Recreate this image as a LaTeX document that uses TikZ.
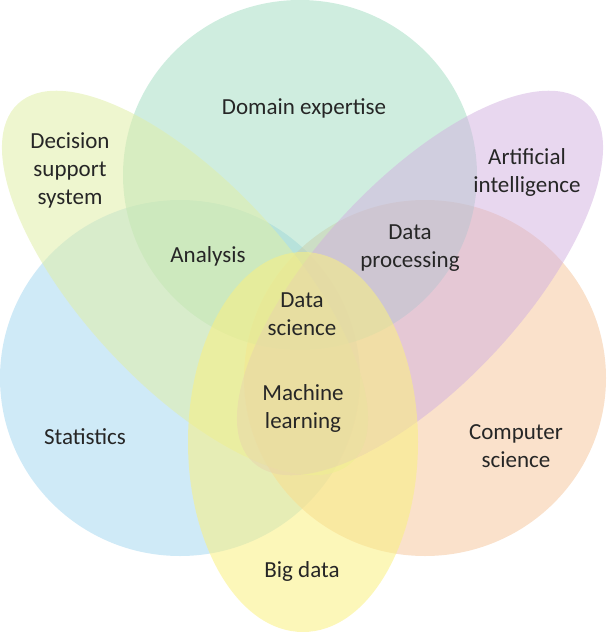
\documentclass[tikz,border=0pt]{standalone}
\usepackage{fontspec}
\setmainfont{Carlito}
\begin{document}
\begin{tikzpicture}[x=1pt,y=1pt,
  lbl/.style={font=\fontsize{23}{28}\selectfont,align=center,text=black!85}]
\useasboundingbox (0,0) rectangle (606,-632);
\definecolor{cst}{HTML}{A8D8F0}
\definecolor{ccs}{HTML}{F5C8A0}
\definecolor{cde}{HTML}{9FDCC0}
\definecolor{cdss}{HTML}{E0EEA8}
\definecolor{cai}{HTML}{D2B0E0}
\definecolor{cbd}{HTML}{FAF080}
\fill[cst,fill opacity=0.55] (180,-378) ellipse [x radius=180,y radius=178];
\fill[ccs,fill opacity=0.55] (425,-378) ellipse [x radius=181,y radius=178];
\fill[cde,fill opacity=0.5] (300,-175) ellipse [x radius=177,y radius=175];
\fill[cdss,fill opacity=0.55,rotate around={-47:(185,-283)}] (185,-283) ellipse [x radius=245,y radius=102];
\fill[cai,fill opacity=0.5,rotate around={47:(420,-283)}] (420,-283) ellipse [x radius=245,y radius=102];
\fill[cbd,fill opacity=0.55] (303,-442) ellipse [x radius=115,y radius=190];
\node[lbl] (de) at (304,-108) {Domain expertise};
\node[lbl] (dss) at (70,-170) {Decision\\support\\system};
\node[lbl] (ai) at (527,-172) {Artificial\\intelligence};
\node[lbl] (an) at (208,-256) {Analysis};
\node[lbl] (dp) at (410,-248) {Data\\processing};
\node[lbl] (ds) at (302,-314) {Data\\science};
\node[lbl] (ml) at (303,-408) {Machine\\learning};
\node[lbl] (st) at (85,-437) {Statistics};
\node[lbl] (cs) at (516,-446) {Computer\\science};
\node[lbl] (bd) at (302,-571) {Big data};
\end{tikzpicture}
\end{document}
